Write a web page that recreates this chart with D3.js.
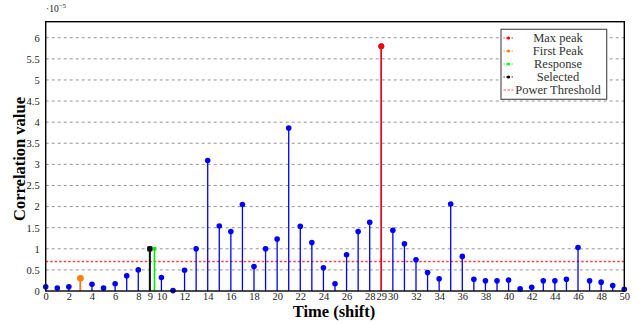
<!DOCTYPE html>
<meta charset="utf-8">
<style>
    body { margin: 0; background: #fff; }
    text { font-family: "Liberation Serif", "DejaVu Serif", serif; }
</style>
<script src="https://d3js.org/d3.v7.min.js"></script>
<svg id="chart" width="644" height="324"></svg>
<script>
    // data (values in units of 1e-5)
    var shifts = d3.range(0, 51);
    var corr = [0.1, 0.07, 0.1, 0.3, 0.16, 0.07, 0.17, 0.36, 0.5, 1.0,
                0.32, 0.01, 0.49, 1.0, 3.09, 1.54, 1.41, 2.05, 0.58, 1.0,
                1.23, 3.86, 1.53, 1.15, 0.55, 0.17, 0.86, 1.41, 1.63, 5.8,
                1.44, 1.12, 0.74, 0.44, 0.29, 2.06, 0.82, 0.28, 0.24, 0.24,
                0.26, 0.05, 0.09, 0.24, 0.24, 0.28, 1.03, 0.24, 0.21, 0.13, 0.04];
    var xTicks = [0, 2, 4, 6, 8, 9, 10, 12, 14, 16, 18, 20, 22, 24, 26, 28, 29, 30,
                  32, 34, 36, 38, 40, 42, 44, 46, 48, 50];
    var yTicks = [0, 0.5, 1, 1.5, 2, 2.5, 3, 3.5, 4, 4.5, 5, 5.5, 6];
    var threshold = 0.7;
    var maxPeak = { x: 29, y: 5.8 };
    var firstPeak = { x: 3, y: 0.3 };
    var response = { x: 9.4, y: 1.0 };
    var selected = { x: 9, y: 1.0 };
    var legendLabels = ["Max peak", "First Peak", "Response", "Selected", "Power Threshold"];
    var legendColors = ["red", "#ff8000", "#00ff00", "black", "#ff5555"];

    var svg = d3.select("#chart");
    var pLeft = 45.7, pRight = 624.3, pTop = 21.7, pBottom = 291;

    var x = d3.scaleLinear().domain([0, 50]).range([pLeft, pRight]);
    var y = d3.scaleLinear().domain([0, 6.38]).range([pBottom, pTop]);

    // grid
    svg.append("g").selectAll("line")
        .data(yTicks.filter(function(d) { return d > 0; }))
        .enter().append("line")
        .attr("x1", pLeft).attr("x2", pRight)
        .attr("y1", function(d) { return y(d); })
        .attr("y2", function(d) { return y(d); })
        .style("stroke", "#888")
        .style("stroke-width", 0.9)
        .style("stroke-dasharray", "3,3");

    // threshold
    svg.append("line")
        .attr("x1", pLeft).attr("x2", pRight)
        .attr("y1", y(threshold)).attr("y2", y(threshold))
        .style("stroke", "#ff4040")
        .style("stroke-width", 1.4)
        .style("stroke-dasharray", "2.5,2");

    // blue stems
    var stems = svg.append("g");
    stems.selectAll("line")
        .data(shifts)
        .enter().append("line")
        .attr("x1", function(d) { return x(d); })
        .attr("x2", function(d) { return x(d); })
        .attr("y1", y(0))
        .attr("y2", function(d, i) { return y(corr[i]); })
        .style("stroke", "blue")
        .style("stroke-width", 1.3);
    stems.selectAll("circle")
        .data(shifts)
        .enter().append("circle")
        .attr("cx", function(d) { return x(d); })
        .attr("cy", function(d, i) { return y(corr[i]); })
        .attr("r", 2.8)
        .style("fill", "blue");

    // special stems
    function stem(p, color, w) {
        svg.append("line")
            .attr("x1", x(p.x)).attr("x2", x(p.x))
            .attr("y1", y(0)).attr("y2", y(p.y))
            .style("stroke", color)
            .style("stroke-width", w);
    }
    stem(firstPeak, "#ff8000", 1.5);
    svg.append("circle").attr("cx", x(firstPeak.x)).attr("cy", y(firstPeak.y))
        .attr("r", 3.3).style("fill", "#ff8000");
    stem(selected, "#111", 2);
    svg.append("rect").attr("x", x(selected.x) - 2.5).attr("y", y(selected.y) - 2.5)
        .attr("width", 5).attr("height", 5).style("fill", "#111");
    stem(response, "#00ee00", 1.6);
    svg.append("rect").attr("x", x(response.x) - 1.8).attr("y", y(response.y) - 1.8)
        .attr("width", 3.6).attr("height", 3.6).style("fill", "#00ee00");
    stem(maxPeak, "red", 1.5);
    svg.append("circle").attr("cx", x(maxPeak.x)).attr("cy", y(maxPeak.y))
        .attr("r", 3).style("fill", "red");

    // frame
    svg.append("rect")
        .attr("x", pLeft).attr("y", pTop)
        .attr("width", pRight - pLeft).attr("height", pBottom - pTop)
        .style("fill", "none")
        .style("stroke", "black")
        .style("stroke-width", 1.4);

    // axes
    svg.append("g")
        .attr("transform", "translate(0," + pBottom + ")")
        .call(d3.axisBottom(x).tickValues(xTicks).tickFormat(d3.format("d")).tickSize(0).tickPadding(2));
    svg.append("g")
        .attr("transform", "translate(" + pLeft + ",0)")
        .call(d3.axisLeft(y).tickValues(yTicks).tickFormat(function(d) { return d; }).tickSize(0).tickPadding(6));
    svg.selectAll(".domain").remove();
    svg.selectAll(".tick text")
        .style("font-family", "'Liberation Serif', serif")
        .style("font-size", "10.5px")
        .style("fill", "#222");

    // multiplier
    var mult = svg.append("text").attr("x", 46).attr("y", 12)
        .style("font-size", "9.5px").style("fill", "#222");
    mult.append("tspan").text("\u00b710");
    mult.append("tspan").attr("dy", -4).style("font-size", "7px").text("\u22125");

    // axis titles
    svg.append("text")
        .attr("x", 334).attr("y", 317)
        .attr("text-anchor", "middle")
        .style("font-size", "16.5px").style("font-weight", "bold")
        .text("Time (shift)");
    svg.append("text")
        .attr("transform", "translate(25,159) rotate(-90)")
        .attr("text-anchor", "middle")
        .style("font-size", "16.5px").style("font-weight", "bold")
        .text("Correlation value");

    // legend
    var lg = svg.append("g");
    lg.append("rect")
        .attr("x", 501).attr("y", 29.3).attr("width", 105.7).attr("height", 70)
        .style("fill", "white").style("stroke", "#555").style("stroke-width", 1.2);
    legendLabels.forEach(function(label, i) {
        var yy = 38 + i * 13;
        lg.append("line")
            .attr("x1", 503.5).attr("x2", 513.5).attr("y1", yy).attr("y2", yy)
            .style("stroke", legendColors[i])
            .style("stroke-width", 1.2)
            .style("stroke-dasharray", i === 4 ? "2.5,1.5" : "1.2,1.5");
        if (i < 4) {
            lg.append("circle").attr("cx", 508.5).attr("cy", yy).attr("r", 1.6)
                .style("fill", legendColors[i]);
        }
        lg.append("text")
            .attr("x", 558).attr("y", yy + 4)
            .attr("text-anchor", "middle")
            .style("font-size", "12.5px").style("fill", "#333")
            .text(label);
    });
</script>
